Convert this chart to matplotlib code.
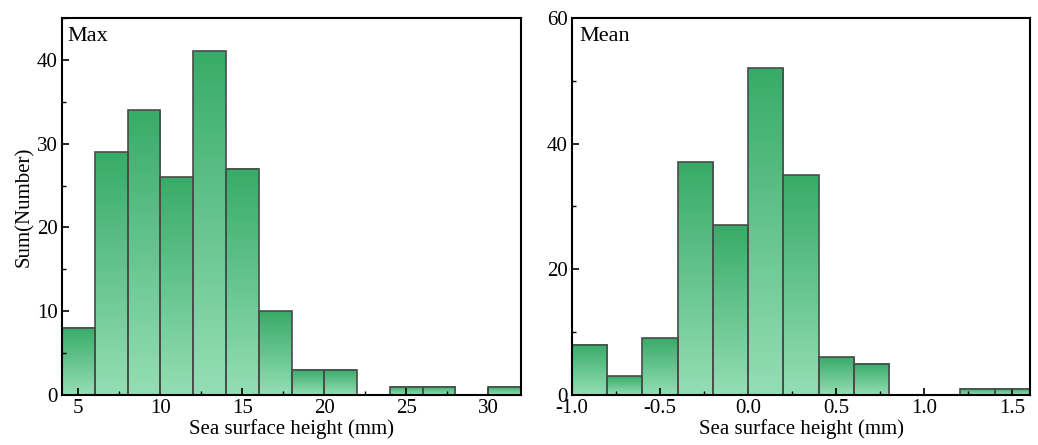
import matplotlib
matplotlib.use('Agg')
import matplotlib.pyplot as plt
import numpy as np
from matplotlib.colors import LinearSegmentedColormap
from matplotlib.ticker import MultipleLocator

plt.rcParams['font.family'] = ['Liberation Serif', 'DejaVu Serif']
plt.rcParams['font.size'] = 15

# data
max_edges = [4, 6, 8, 10, 12, 14, 16, 18, 20, 22, 24, 26, 28, 30, 32]
max_counts = [8, 29, 34, 26, 41, 27, 10, 3, 3, 0, 1, 1, 0, 1]
mean_edges = [-1.0, -0.8, -0.6, -0.4, -0.2, 0.0, 0.2, 0.4, 0.6, 0.8, 1.0, 1.2, 1.4, 1.6]
mean_counts = [8, 3, 9, 37, 27, 52, 35, 6, 5, 0, 0, 1, 1]

cmap = LinearSegmentedColormap.from_list('g', ['#95deb5', '#38ab68'])
grad = np.linspace(0, 1, 256).reshape(-1, 1)


def gradient_hist(ax, edges, counts, xlim, ylim):
    edges = np.array(edges)
    for x0, x1, h in zip(edges[:-1], edges[1:], counts):
        if h <= 0:
            continue
        ax.imshow(grad, extent=(x0, x1, 0, h), origin='lower', cmap=cmap,
                  aspect='auto', zorder=1)
    ax.bar(edges[:-1], counts, width=np.diff(edges), align='edge',
           facecolor='none', edgecolor='#4a4a4a', linewidth=1.2, zorder=2)
    ax.set_xlim(*xlim)
    ax.set_ylim(*ylim)
    for s in ax.spines.values():
        s.set_linewidth(1.5)
    ax.tick_params(which='both', direction='in', top=False, right=False,
                   labelsize=15, pad=3)
    ax.tick_params(which='major', length=5, width=1.2)
    ax.tick_params(which='minor', length=3, width=1.0)
    ax.set_xlabel('Sea surface height (mm)', fontsize=15, labelpad=1)


fig = plt.figure(figsize=(10.38, 4.45), dpi=100)
ax1 = fig.add_axes([0.0597, 0.1124, 0.4423, 0.8472])
ax2 = fig.add_axes([0.5511, 0.1124, 0.4412, 0.8472])

gradient_hist(ax1, max_edges, max_counts, (4, 32), (0, 45))
ax1.xaxis.set_major_locator(MultipleLocator(5))
ax1.xaxis.set_minor_locator(MultipleLocator(2.5))
ax1.yaxis.set_major_locator(MultipleLocator(10))
ax1.yaxis.set_minor_locator(MultipleLocator(5))
ax1.set_ylabel('Sum(Number)', fontsize=15, labelpad=2)
ax1.text(0.012, 0.975, 'Max', transform=ax1.transAxes, ha='left', va='top', fontsize=16)

gradient_hist(ax2, mean_edges, mean_counts, (-1.0, 1.6), (0, 60))
ax2.xaxis.set_major_locator(MultipleLocator(0.5))
ax2.xaxis.set_minor_locator(MultipleLocator(0.25))
ax2.yaxis.set_major_locator(MultipleLocator(20))
ax2.yaxis.set_minor_locator(MultipleLocator(10))
ax2.xaxis.set_major_formatter(plt.FormatStrFormatter('%.1f'))
ax2.text(0.015, 0.975, 'Mean', transform=ax2.transAxes, ha='left', va='top', fontsize=16)

fig.savefig('out.png', dpi=100)
